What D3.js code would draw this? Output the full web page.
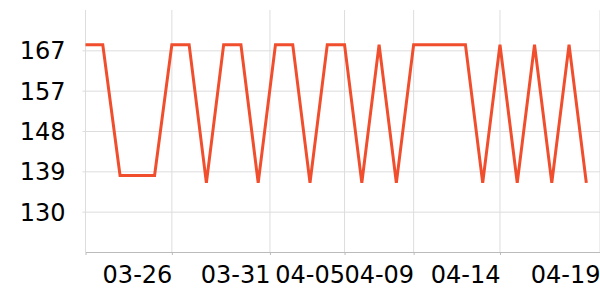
<!DOCTYPE html>
<html lang="en">

<head>
    <meta charset="UTF-8" />
    <title>Daily values</title>
    <script src="https://d3js.org/d3.v7.min.js"></script>
    <style>
        body {
            margin: 0;
            background: #fff;
            font-family: "DejaVu Sans", sans-serif;
        }
    </style>
</head>

<body>
    <div id="chart"></div>

    <script>
        // data
        const dates = [
            "2024-03-21", "2024-03-22", "2024-03-23", "2024-03-24", "2024-03-25",
            "2024-03-26", "2024-03-27", "2024-03-28", "2024-03-29", "2024-03-30",
            "2024-03-31", "2024-04-01", "2024-04-02", "2024-04-03", "2024-04-04",
            "2024-04-05", "2024-04-06", "2024-04-07", "2024-04-08", "2024-04-09",
            "2024-04-10", "2024-04-11", "2024-04-12", "2024-04-13", "2024-04-14",
            "2024-04-15", "2024-04-16", "2024-04-17", "2024-04-18", "2024-04-19"
        ];
        const values = [
            168.3, 168.3, 138.3, 138.3, 138.3,
            168.3, 168.3, 136.6, 168.3, 168.3,
            136.6, 168.3, 168.3, 136.6, 168.3,
            168.3, 136.6, 168.3, 136.6, 168.3,
            168.3, 168.3, 168.3, 136.6, 168.3,
            136.6, 168.3, 136.6, 168.3, 136.6
        ];
        const xDomain = ["2024-03-21T00:00", "2024-04-19T19:00"];
        const xTicks = ["2024-03-26T00:00", "2024-03-31T16:20", "2024-04-05T00:00",
            "2024-04-09T00:00", "2024-04-14T00:00", "2024-04-19T19:00"];
        const xTickLabels = ["03-26", "03-31", "04-05", "04-09", "04-14", "04-19"];
        const yDomain = [120.75, 176.25];
        const yTicks = [130, 139.25, 148.5, 157.75, 167];

        const margin = { top: 10, right: 0, bottom: 48, left: 85.5 },
            width = 600 - margin.left - margin.right,
            height = 300 - margin.top - margin.bottom;

        const svg = d3.select("#chart")
            .append("svg")
            .attr("width", width + margin.left + margin.right)
            .attr("height", height + margin.top + margin.bottom)
            .append("g")
            .attr("transform", `translate(${margin.left},${margin.top})`);

        const parse = d3.isoParse;
        const data = dates.map((d, i) => ({ date: parse(d), value: values[i] }));

        const x = d3.scaleTime()
            .domain(xDomain.map(parse))
            .range([0, width]);

        const y = d3.scaleLinear()
            .domain(yDomain)
            .range([height, 0]);

        // grille horizontale + labels Y
        const yAxis = svg.append("g")
            .call(d3.axisLeft(y)
                .tickValues(yTicks)
                .tickSize(-width - 3)
                .tickFormat(d => Math.floor(d)))
            .attr("transform", "translate(-3,0)");
        yAxis.select(".domain").remove();
        yAxis.selectAll(".tick line").attr("stroke", "#ddd");
        yAxis.selectAll("text")
            .attr("x", -17)
            .attr("dy", "0.36em")
            .style("font-size", "24px")
            .style("font-family", "DejaVu Sans")
            .attr("fill", "#000");

        // grille verticale
        svg.append("g")
            .selectAll("line")
            .data([x.domain()[0], ...xTicks.map(parse)])
            .join("line")
            .attr("x1", d => x(d)).attr("x2", d => x(d))
            .attr("y1", 0).attr("y2", height)
            .attr("stroke", "#ddd");

        // axe X
        const xAxis = svg.append("g")
            .attr("transform", `translate(0,${height})`)
            .call(d3.axisBottom(x)
                .tickValues([x.domain()[0], ...xTicks.map(parse)])
                .tickSize(3)
                .tickSizeOuter(0)
                .tickFormat((d, i) => i === 0 ? "" : xTickLabels[i - 1]));
        xAxis.select(".domain").attr("stroke", "#bbb");
        xAxis.selectAll(".tick line").attr("stroke", "#bbb");
        xAxis.selectAll("text")
            .attr("text-anchor", "end")
            .attr("y", 30.5)
            .attr("dy", 0)
            .style("font-size", "24px")
            .style("font-family", "DejaVu Sans")
            .attr("fill", "#000");

        // ligne
        svg.append("path")
            .datum(data)
            .attr("fill", "none")
            .attr("stroke", "#f04e2d")
            .attr("stroke-width", 3)
            .attr("d", d3.line()
                .x(d => x(d.date))
                .y(d => y(d.value)));
    </script>

</body>

</html>
